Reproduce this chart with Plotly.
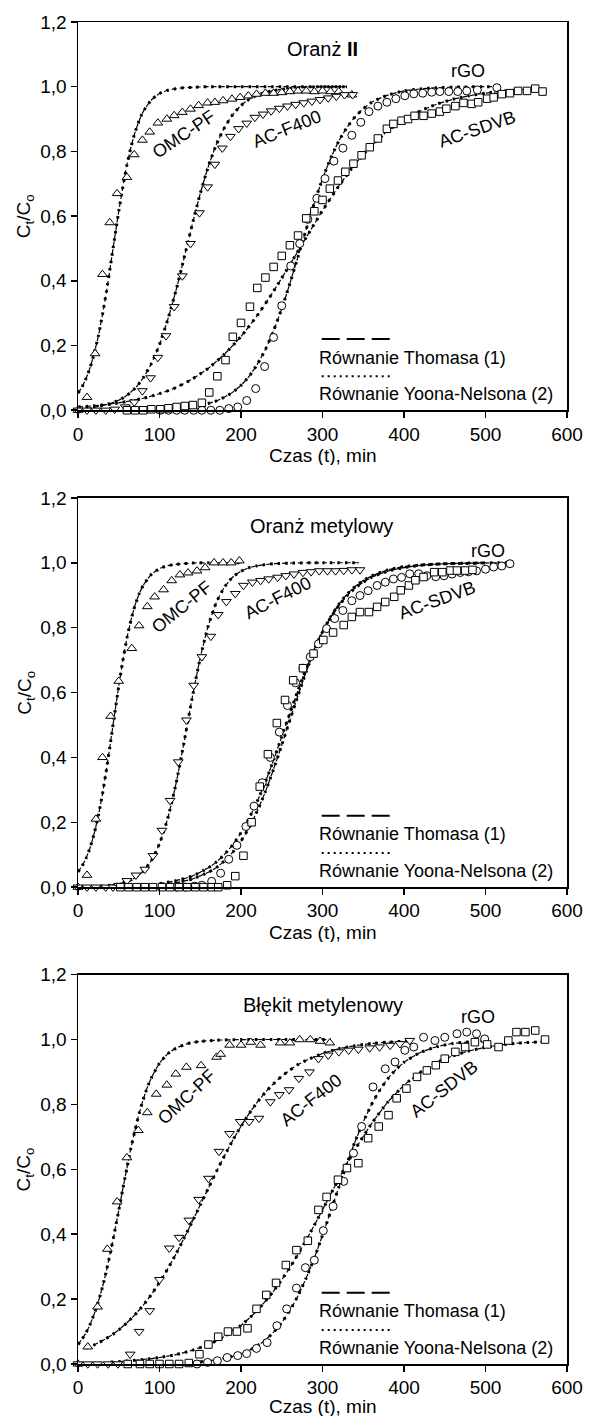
import plotly.graph_objects as go

FONT = "Liberation Sans, Arial, Helvetica, sans-serif"

# ---------------- Panel 1: Oranż II ----------------
p1_omc_t = [0, 11, 21, 30, 39, 48, 60, 69, 79, 88, 98, 109, 118, 128, 138, 148, 159, 168, 178, 189, 199, 209, 219, 230, 240, 250, 260, 270, 280, 290, 300, 310, 320, 336]
p1_omc_y = [0.0, 0.04, 0.175, 0.42, 0.58, 0.67, 0.72, 0.79, 0.835, 0.86, 0.888, 0.90, 0.911, 0.921, 0.931, 0.942, 0.95, 0.952, 0.957, 0.962, 0.967, 0.972, 0.977, 0.98, 0.98, 0.982, 0.985, 0.987, 0.987, 0.985, 0.987, 0.985, 0.985, 0.975]
p1_acf_t = [0, 11, 22, 34, 45, 58, 69, 79, 89, 98, 108, 118, 128, 138, 149, 159, 168, 177, 187, 197, 207, 217, 227, 237, 247, 257, 267, 277, 287, 297, 307, 317, 327, 337]
p1_acf_y = [0.0, 0.0, 0.0, 0.0, 0.003, 0.01, 0.025, 0.06, 0.10, 0.163, 0.23, 0.32, 0.415, 0.515, 0.61, 0.69, 0.76, 0.81, 0.846, 0.87, 0.887, 0.905, 0.915, 0.925, 0.933, 0.94, 0.945, 0.95, 0.955, 0.96, 0.965, 0.97, 0.975, 0.975]
p1_rgo_t = [101, 111, 121, 131, 142, 152, 163, 174, 185, 196, 207, 218, 229, 240, 250, 261, 272, 282, 293, 303, 314, 325, 336, 347, 357, 368, 379, 390, 401, 412, 423, 434, 444, 455, 466, 477, 490, 514]
p1_rgo_y = [0.0, 0.0, 0.0, 0.0, 0.0, 0.0, 0.0, 0.0, 0.005, 0.01, 0.03, 0.067, 0.135, 0.225, 0.323, 0.446, 0.515, 0.59, 0.655, 0.716, 0.77, 0.81, 0.85, 0.89, 0.923, 0.94, 0.952, 0.963, 0.972, 0.978, 0.98, 0.983, 0.985, 0.985, 0.985, 0.987, 0.99, 0.997]
p1_sdvb_t = [60, 70, 80, 90, 101, 111, 121, 131, 141, 152, 161, 171, 181, 190, 200, 211, 220, 230, 240, 250, 260, 270, 280, 290, 300, 309, 319, 328, 338, 348, 358, 368, 379, 387, 397, 405, 413, 424, 434, 444, 452, 463, 473, 483, 491, 502, 510, 520, 530, 540, 551, 561, 570]
p1_sdvb_y = [0.0, 0.0, 0.0, 0.003, 0.003, 0.006, 0.01, 0.013, 0.016, 0.023, 0.055, 0.105, 0.155, 0.227, 0.27, 0.32, 0.378, 0.41, 0.443, 0.477, 0.51, 0.54, 0.593, 0.615, 0.65, 0.685, 0.71, 0.737, 0.762, 0.788, 0.813, 0.84, 0.87, 0.885, 0.895, 0.90, 0.91, 0.91, 0.917, 0.923, 0.932, 0.94, 0.95, 0.947, 0.952, 0.963, 0.967, 0.977, 0.98, 0.987, 0.987, 0.994, 0.985]

p1_fit_omc_t = [0, 5, 10, 15, 20, 25, 30, 35, 40, 45, 50, 55, 60, 65, 70, 75, 80, 90, 100, 110, 120, 130, 140, 160, 200, 250, 300, 330]
p1_fit_omc_y = [0.053, 0.072, 0.099, 0.133, 0.177, 0.23, 0.295, 0.368, 0.45, 0.533, 0.615, 0.69, 0.758, 0.813, 0.859, 0.895, 0.923, 0.959, 0.979, 0.989, 0.994, 0.997, 0.998, 1.0, 1.0, 1.0, 1.0, 1.0]
p1_fit_acf_t = [0, 20, 40, 50, 60, 70, 80, 90, 100, 110, 120, 130, 140, 150, 160, 170, 180, 190, 200, 210, 220, 230, 240, 260, 280, 300, 330]
p1_fit_acf_y = [0.004, 0.009, 0.021, 0.031, 0.046, 0.068, 0.10, 0.144, 0.203, 0.279, 0.368, 0.469, 0.572, 0.67, 0.754, 0.823, 0.875, 0.914, 0.942, 0.961, 0.974, 0.982, 0.988, 0.995, 0.998, 1.0, 1.0]
p1_fit_rgo_t = [150, 160, 170, 180, 190, 200, 210, 220, 230, 240, 250, 260, 270, 280, 290, 300, 310, 320, 330, 340, 350, 360, 370, 380, 400, 420, 440, 470, 500, 520]
p1_fit_rgo_y = [0.015, 0.021, 0.029, 0.041, 0.056, 0.077, 0.105, 0.142, 0.188, 0.246, 0.314, 0.392, 0.475, 0.559, 0.641, 0.715, 0.779, 0.832, 0.874, 0.907, 0.932, 0.951, 0.964, 0.974, 0.987, 0.993, 0.997, 0.999, 1.0, 1.0]
p1_fit_sdvb_t = [0, 20, 40, 60, 80, 100, 120, 140, 160, 180, 200, 220, 240, 260, 280, 300, 320, 340, 360, 380, 400, 420, 440, 460, 480, 500, 520, 540, 570]
p1_fit_sdvb_y = [0.010, 0.014, 0.019, 0.027, 0.037, 0.051, 0.070, 0.096, 0.130, 0.174, 0.228, 0.293, 0.368, 0.45, 0.534, 0.617, 0.693, 0.761, 0.818, 0.863, 0.898, 0.925, 0.946, 0.961, 0.972, 0.980, 0.986, 0.990, 0.994]

# ---------------- Panel 2: Oranż metylowy ----------------
p2_omc_t = [0, 11, 22, 30, 40, 50, 66, 75, 85, 94, 105, 115, 125, 135, 146, 156, 167, 178, 188, 198]
p2_omc_y = [0.0, 0.037, 0.21, 0.40, 0.527, 0.635, 0.736, 0.806, 0.865, 0.895, 0.917, 0.945, 0.963, 0.969, 0.975, 0.985, 1.0, 1.0, 1.0, 1.006]
p2_acf_t = [0, 11, 22, 34, 43, 50, 60, 71, 82, 92, 103, 113, 123, 133, 142, 152, 163, 172, 182, 193, 203, 214, 224, 234, 245, 255, 265, 276, 286, 296, 306, 316, 326, 336, 346]
p2_acf_y = [0.0, 0.0, 0.0, 0.0, 0.0, 0.005, 0.02, 0.037, 0.055, 0.097, 0.175, 0.267, 0.386, 0.515, 0.622, 0.71, 0.773, 0.84, 0.88, 0.905, 0.93, 0.94, 0.945, 0.95, 0.955, 0.96, 0.965, 0.97, 0.972, 0.975, 0.975, 0.975, 0.976, 0.978, 0.978]
p2_rgo_t = [121, 132, 143, 152, 164, 175, 185, 195, 206, 216, 226, 236, 247, 257, 267, 276, 285, 295, 305, 315, 325, 336, 346, 356, 367, 377, 387, 397, 407, 418, 428, 439, 449, 459, 469, 479, 489, 500, 510, 520, 530]
p2_rgo_y = [0.0, 0.0, 0.003, 0.006, 0.018, 0.043, 0.086, 0.129, 0.187, 0.25, 0.322, 0.40, 0.478, 0.56, 0.63, 0.675, 0.71, 0.75, 0.797, 0.828, 0.853, 0.883, 0.899, 0.914, 0.93, 0.94, 0.95, 0.955, 0.966, 0.966, 0.96, 0.957, 0.96, 0.965, 0.97, 0.972, 0.975, 0.98, 0.987, 0.99, 0.997]
p2_sdvb_t = [52, 62, 72, 82, 92, 103, 113, 124, 134, 144, 154, 164, 172, 183, 193, 203, 213, 223, 233, 244, 254, 264, 276, 289, 301, 313, 326, 336, 346, 357, 367, 377, 388, 396, 406, 414, 424, 437, 447, 457, 465, 475, 484]
p2_sdvb_y = [0.0, 0.0, 0.0, 0.0, 0.0, 0.0, 0.0, 0.0, 0.0, 0.0, 0.0, 0.0, 0.0, 0.006, 0.034, 0.097, 0.2, 0.31, 0.41, 0.506, 0.577, 0.638, 0.675, 0.72, 0.762, 0.785, 0.808, 0.833, 0.848, 0.848, 0.864, 0.879, 0.895, 0.915, 0.93, 0.946, 0.956, 0.971, 0.971, 0.976, 0.976, 0.976, 0.978]

p2_fit_omc_t = [0, 5, 10, 15, 20, 25, 30, 35, 40, 45, 50, 55, 60, 65, 70, 75, 80, 90, 100, 110, 120, 140, 160, 200]
p2_fit_omc_y = [0.047, 0.065, 0.090, 0.123, 0.167, 0.221, 0.287, 0.364, 0.448, 0.535, 0.62, 0.698, 0.767, 0.823, 0.869, 0.904, 0.930, 0.964, 0.982, 0.991, 0.995, 0.999, 1.0, 1.0]
p2_fit_acf_t = [0, 20, 40, 50, 60, 70, 80, 90, 100, 110, 120, 130, 140, 150, 160, 170, 180, 190, 200, 210, 220, 240, 260, 300, 345]
p2_fit_acf_y = [0.001, 0.002, 0.006, 0.010, 0.017, 0.029, 0.049, 0.082, 0.134, 0.211, 0.316, 0.445, 0.582, 0.707, 0.807, 0.879, 0.926, 0.956, 0.974, 0.985, 0.991, 0.997, 0.999, 1.0, 1.0]
p2_fit_rgo_t = [100, 120, 140, 160, 170, 180, 190, 200, 210, 220, 230, 240, 250, 260, 270, 280, 290, 300, 310, 320, 330, 340, 350, 360, 380, 400, 420, 450, 480, 530]
p2_fit_rgo_y = [0.007, 0.014, 0.025, 0.046, 0.061, 0.082, 0.108, 0.142, 0.184, 0.235, 0.295, 0.364, 0.438, 0.515, 0.591, 0.664, 0.729, 0.786, 0.833, 0.872, 0.903, 0.927, 0.945, 0.959, 0.978, 0.988, 0.993, 0.997, 0.999, 1.0]
p2_fit_sdvb_t = [100, 120, 140, 160, 170, 180, 190, 200, 210, 220, 230, 240, 250, 260, 270, 280, 290, 300, 310, 320, 330, 340, 350, 360, 380, 400, 420, 450, 480, 500]
p2_fit_sdvb_y = [0.011, 0.020, 0.034, 0.060, 0.078, 0.102, 0.131, 0.168, 0.213, 0.265, 0.325, 0.392, 0.464, 0.536, 0.607, 0.674, 0.734, 0.787, 0.831, 0.868, 0.898, 0.922, 0.940, 0.955, 0.974, 0.985, 0.992, 0.997, 0.998, 1.0]

# ---------------- Panel 3: Błękit metylenowy ----------------
p3_omc_t = [0, 12, 24, 36, 48, 60, 74, 85, 96, 109, 120, 133, 151, 170, 175, 186, 200, 212, 224, 248, 260, 272, 285, 297, 309]
p3_omc_y = [0.0, 0.053, 0.176, 0.354, 0.50, 0.636, 0.72, 0.775, 0.832, 0.86, 0.894, 0.915, 0.92, 0.946, 0.955, 0.983, 0.983, 0.992, 0.983, 0.99, 0.99, 1.0, 1.0, 0.995, 0.99]
p3_acf_t = [0, 12, 24, 37, 49, 64, 75, 88, 100, 112, 124, 136, 148, 160, 173, 186, 199, 210, 222, 236, 247, 259, 271, 284, 295, 307, 320, 332, 344, 358, 370, 383, 395, 407]
p3_acf_y = [0.0, 0.0, 0.0, 0.0, 0.0, 0.03, 0.10, 0.164, 0.26, 0.357, 0.39, 0.443, 0.507, 0.572, 0.655, 0.71, 0.747, 0.747, 0.757, 0.808, 0.83, 0.845, 0.88, 0.90, 0.941, 0.952, 0.962, 0.967, 0.97, 0.974, 0.977, 0.982, 0.987, 0.997]
p3_rgo_t = [146, 159, 171, 183, 196, 207, 219, 232, 244, 256, 268, 279, 290, 301, 313, 326, 338, 348, 362, 377, 389, 401, 412, 424, 438, 450, 465, 477, 489, 499]
p3_rgo_y = [0.0, 0.005, 0.01, 0.02, 0.026, 0.032, 0.048, 0.066, 0.118, 0.17, 0.234, 0.297, 0.32, 0.411, 0.486, 0.563, 0.65, 0.732, 0.854, 0.91, 0.931, 0.967, 0.977, 1.007, 0.997, 1.007, 1.018, 1.023, 1.018, 1.002]
p3_sdvb_t = [61, 76, 88, 100, 112, 124, 136, 149, 160, 172, 184, 195, 208, 219, 231, 243, 255, 268, 282, 295, 305, 319, 330, 344, 356, 369, 381, 391, 403, 416, 428, 439, 450, 463, 475, 487, 502, 516, 528, 538, 549, 561, 573]
p3_sdvb_y = [0.0, 0.0, 0.0, 0.0, 0.0, 0.0, 0.003, 0.03, 0.06, 0.084, 0.10, 0.10, 0.11, 0.17, 0.213, 0.25, 0.305, 0.351, 0.38, 0.475, 0.515, 0.568, 0.604, 0.619, 0.696, 0.732, 0.767, 0.819, 0.849, 0.885, 0.905, 0.921, 0.941, 0.962, 0.977, 0.992, 0.985, 0.977, 0.997, 1.023, 1.023, 1.028, 1.0]

p3_fit_omc_t = [0, 5, 10, 15, 20, 25, 30, 35, 40, 45, 50, 55, 60, 65, 70, 75, 80, 85, 90, 100, 110, 120, 130, 140, 150, 170, 200, 310]
p3_fit_omc_y = [0.060, 0.077, 0.097, 0.123, 0.155, 0.193, 0.237, 0.289, 0.346, 0.408, 0.473, 0.54, 0.604, 0.666, 0.721, 0.772, 0.815, 0.852, 0.882, 0.927, 0.956, 0.973, 0.984, 0.991, 0.994, 0.998, 1.0, 1.0]
p3_fit_acf_t = [10, 20, 30, 40, 50, 60, 70, 80, 90, 100, 110, 120, 130, 140, 150, 160, 170, 180, 190, 200, 210, 220, 230, 240, 250, 260, 270, 280, 300, 320, 340, 360, 380, 410]
p3_fit_acf_y = [0.048, 0.059, 0.072, 0.087, 0.105, 0.127, 0.152, 0.181, 0.214, 0.252, 0.293, 0.338, 0.387, 0.438, 0.49, 0.542, 0.594, 0.643, 0.69, 0.733, 0.772, 0.807, 0.838, 0.864, 0.887, 0.906, 0.923, 0.936, 0.957, 0.972, 0.981, 0.988, 0.992, 0.996]
p3_fit_rgo_t = [150, 170, 180, 190, 200, 210, 220, 230, 240, 250, 260, 270, 280, 290, 300, 310, 320, 330, 340, 350, 360, 370, 380, 390, 400, 420, 440, 460, 480, 500]
p3_fit_rgo_y = [0.007, 0.013, 0.018, 0.024, 0.032, 0.042, 0.056, 0.074, 0.098, 0.128, 0.165, 0.211, 0.265, 0.327, 0.397, 0.47, 0.545, 0.618, 0.686, 0.746, 0.799, 0.843, 0.879, 0.907, 0.930, 0.960, 0.978, 0.988, 0.993, 0.996]
p3_fit_sdvb_t = [40, 60, 80, 100, 120, 140, 160, 180, 200, 220, 240, 260, 280, 300, 320, 340, 360, 380, 400, 420, 440, 460, 480, 500, 520, 540, 575]
p3_fit_sdvb_y = [0.006, 0.009, 0.014, 0.020, 0.029, 0.042, 0.060, 0.085, 0.119, 0.165, 0.225, 0.297, 0.382, 0.475, 0.571, 0.661, 0.74, 0.807, 0.859, 0.899, 0.929, 0.950, 0.965, 0.976, 0.984, 0.989, 0.994]

# ---------------- Labels ----------------
panel_titles = ["Oranż <b>II</b>", "Oranż metylowy", "Błękit metylenowy"]
series_names = ["OMC-PF", "AC-F400", "rGO", "AC-SDVB"]
legend_texts = ["Równanie Thomasa (1)", "Równanie Yoona-Nelsona (2)"]
x_title = "Czas (t), min"
y_title = "C<sub>t</sub>/C<sub>o</sub>"
x_ticks = [0, 100, 200, 300, 400, 500, 600]
y_ticks = [0.0, 0.2, 0.4, 0.6, 0.8, 1.0, 1.2]

# label placement (x, y, angle) per panel and series
label_pos = [
    [(130, 0.855, -34), (256, 0.868, -22), (478, 1.049, 0), (490, 0.87, -19)],
    [(127, 0.865, -39), (245, 0.89, -27), (503, 1.037, 0), (441, 0.886, -20)],
    [(133, 0.824, -43), (286, 0.814, -38), (491, 1.069, 0), (449, 0.848, -38)],
]
title_pos = [(300, 1.117), (299, 1.113), (300, 1.106)]
x_title_shift = [-45, -45, -43]

panels = [
    dict(data=[(p1_omc_t, p1_omc_y), (p1_acf_t, p1_acf_y), (p1_rgo_t, p1_rgo_y), (p1_sdvb_t, p1_sdvb_y)],
         fits=[(p1_fit_omc_t, p1_fit_omc_y), (p1_fit_acf_t, p1_fit_acf_y), (p1_fit_rgo_t, p1_fit_rgo_y), (p1_fit_sdvb_t, p1_fit_sdvb_y)]),
    dict(data=[(p2_omc_t, p2_omc_y), (p2_acf_t, p2_acf_y), (p2_rgo_t, p2_rgo_y), (p2_sdvb_t, p2_sdvb_y)],
         fits=[(p2_fit_omc_t, p2_fit_omc_y), (p2_fit_acf_t, p2_fit_acf_y), (p2_fit_rgo_t, p2_fit_rgo_y), (p2_fit_sdvb_t, p2_fit_sdvb_y)]),
    dict(data=[(p3_omc_t, p3_omc_y), (p3_acf_t, p3_acf_y), (p3_rgo_t, p3_rgo_y), (p3_sdvb_t, p3_sdvb_y)],
         fits=[(p3_fit_omc_t, p3_fit_omc_y), (p3_fit_acf_t, p3_fit_acf_y), (p3_fit_rgo_t, p3_fit_rgo_y), (p3_fit_sdvb_t, p3_fit_sdvb_y)]),
]

symbols = ["triangle-up", "triangle-down", "circle", "square"]
sizes = [8.5, 8.5, 8, 7.5]
domains = [[0.7107, 1.0], [0.3553, 0.6454], [0.0, 0.2901]]

fig = go.Figure()
annotations = []
shapes = []

for i, p in enumerate(panels):
    xa = "x" if i == 0 else f"x{i+1}"
    ya = "y" if i == 0 else f"y{i+1}"
    # fitted curves: Thomas (dashed) + Yoon-Nelson (dotted)
    for (ft, fy) in p["fits"]:
        fig.add_trace(go.Scatter(x=ft, y=fy, xaxis=xa, yaxis=ya, mode="lines",
                                 line=dict(color="black", width=1.2, dash="5px,3px", shape="spline", smoothing=0.6),
                                 showlegend=False, hoverinfo="skip"))
        fig.add_trace(go.Scatter(x=ft, y=fy, xaxis=xa, yaxis=ya, mode="lines",
                                 line=dict(color="black", width=3, dash="2.5px,5px", shape="spline", smoothing=0.6),
                                 showlegend=False, hoverinfo="skip"))
    for j, (dt, dy) in enumerate(p["data"]):
        fig.add_trace(go.Scatter(x=dt, y=dy, xaxis=xa, yaxis=ya, mode="markers", cliponaxis=False,
                                 marker=dict(symbol=symbols[j], size=sizes[j], color="white",
                                             line=dict(color="black", width=1)),
                                 name=series_names[j], showlegend=False))
    # labels
    for j, (lx, ly, ang) in enumerate(label_pos[i]):
        annotations.append(dict(x=lx, y=ly, xref=xa, yref=ya, text=series_names[j], showarrow=False,
                                textangle=ang, xanchor="center", yanchor="middle",
                                font=dict(size=18, family=FONT, color="black")))
    tx, ty = title_pos[i]
    annotations.append(dict(x=tx, y=ty, xref=xa, yref=ya, text=panel_titles[i], showarrow=False,
                            xanchor="center", yanchor="middle",
                            font=dict(size=20, family=FONT, color="black")))
    # legend block
    shapes.append(dict(type="line", xref=xa, yref=ya, x0=299, x1=383, y0=0.22, y1=0.22,
                       line=dict(color="black", width=2, dash="18px,7px")))
    shapes.append(dict(type="line", xref=xa, yref=ya, x0=299, x1=385, y0=0.105, y1=0.105,
                       line=dict(color="black", width=2, dash="2px,4px")))
    annotations.append(dict(x=293, y=0.163, xref=xa, yref=ya, text=legend_texts[0], showarrow=False,
                            xanchor="left", yanchor="middle", font=dict(size=18, family=FONT, color="black")))
    annotations.append(dict(x=293, y=0.05, xref=xa, yref=ya, text=legend_texts[1], showarrow=False,
                            xanchor="left", yanchor="middle", font=dict(size=18, family=FONT, color="black")))
    # axis titles
    annotations.append(dict(x=300, y=0, xref=xa, yref=ya, yshift=x_title_shift[i], text=x_title, showarrow=False,
                            xanchor="center", yanchor="middle", height=19, borderpad=0,
                            font=dict(size=19, family=FONT, color="black")))
    annotations.append(dict(x=-0.108, y=0.6, xref="paper", yref=ya, text=y_title, showarrow=False,
                            textangle=-90, xanchor="center", yanchor="middle",
                            font=dict(size=19, family=FONT, color="black")))

axis_common = dict(showline=True, mirror=True, linecolor="black", linewidth=1.5, showgrid=False,
                   zeroline=False, ticks="outside", ticklen=6, tickwidth=1.5, tickcolor="black",
                   tickfont=dict(size=19, family=FONT, color="black"))

layout = dict(width=595, height=1417, paper_bgcolor="white", plot_bgcolor="white",
              margin=dict(l=78, r=28, t=16, b=53), separators=", ",
              annotations=annotations, shapes=shapes, showlegend=False,
              font=dict(family=FONT, color="black"))
for i in range(3):
    xk = "xaxis" if i == 0 else f"xaxis{i+1}"
    yk = "yaxis" if i == 0 else f"yaxis{i+1}"
    xa = "x" if i == 0 else f"x{i+1}"
    ya = "y" if i == 0 else f"y{i+1}"
    layout[xk] = dict(axis_common, domain=[0, 1], anchor=ya, range=[0, 600], tickvals=x_ticks)
    layout[yk] = dict(axis_common, domain=domains[i], anchor=xa, range=[0, 1.2], tickvals=y_ticks,
                      tickformat=".1f")

fig.update_layout(**layout)
fig.write_html("out.html", config={"displayModeBar": False, "staticPlot": True},
               post_script="document.body.style.margin='0';document.body.style.padding='0';"
                           "document.documentElement.style.overflow='hidden';")
